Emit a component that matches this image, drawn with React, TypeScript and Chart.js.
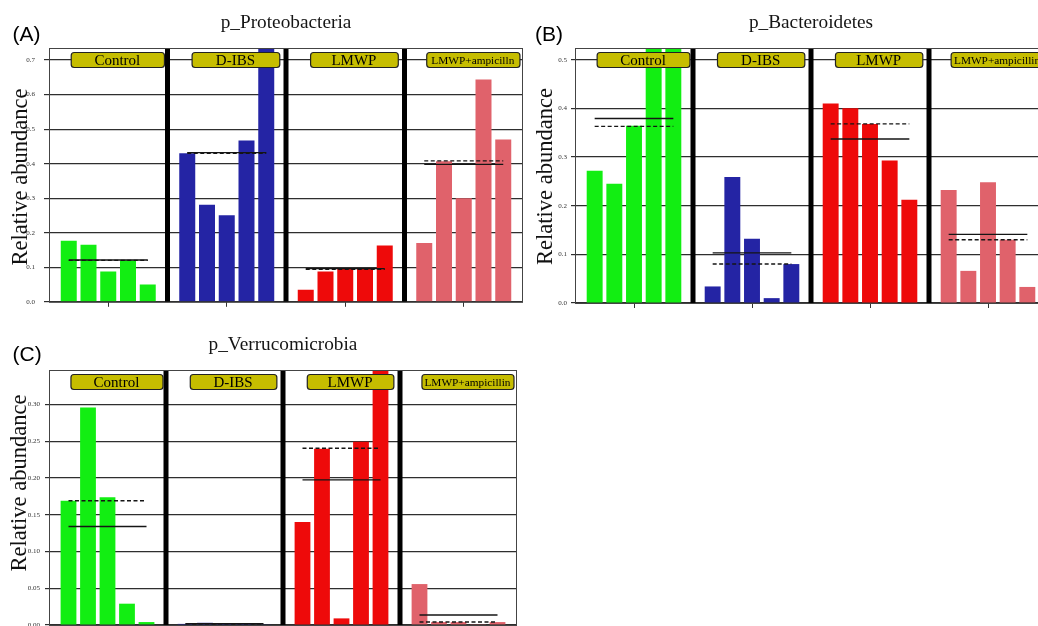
import React, { useEffect, useRef } from 'react';
import { Chart, registerables } from 'chart.js';

Chart.register(...registerables);

// ---------- data ----------
const groupNames = ['Control', 'D-IBS', 'LMWP', 'LMWP+ampicillin'];
const groupNamesA = ['Control', 'D-IBS', 'LMWP', 'LMWP+ampicilln'];
const groupColors = ['#12ee12', '#2424a4', '#ee0a0a', '#e0626b'];

// (A) p_Proteobacteria
const proteoControl = [0.177, 0.165, 0.088, 0.12, 0.05];
const proteoDIBS = [0.43, 0.281, 0.251, 0.467, 0.74];
const proteoLMWP = [0.035, 0.088, 0.095, 0.095, 0.163];
const proteoAmp = [0.17, 0.407, 0.3, 0.644, 0.47];
const proteoMean = [0.121, 0.432, 0.096, 0.398];
const proteoMedian = [0.12, 0.43, 0.094, 0.408];

// (B) p_Bacteroidetes
const bactControl = [0.272, 0.245, 0.364, 0.54, 0.56];
const bactDIBS = [0.034, 0.259, 0.132, 0.01, 0.08];
const bactLMWP = [0.41, 0.4, 0.368, 0.293, 0.212];
const bactAmp = [0.232, 0.066, 0.248, 0.13, 0.033];
const bactMean = [0.379, 0.103, 0.337, 0.141];
const bactMedian = [0.363, 0.08, 0.368, 0.13];

// (C) p_Verrucomicrobia
const verrControl = [0.169, 0.296, 0.174, 0.029, 0.004];
const verrDIBS = [0.0015, 0.003, 0.0015, 0.0015, 0.001];
const verrLMWP = [0.14, 0.24, 0.009, 0.2495, 0.36];
const verrAmp = [0.0557, 0.004, 0.004, 0.0005, 0.004];
const verrMean = [0.134, 0.0019, 0.1975, 0.0137];
const verrMedian = [0.169, 0.0015, 0.2405, 0.004];

const ticksA = [0, 0.1, 0.2, 0.3, 0.4, 0.5, 0.6, 0.7];
const ticksB = [0, 0.1, 0.2, 0.3, 0.4, 0.5];
const ticksC = [0, 0.05, 0.1, 0.15, 0.2, 0.25, 0.3];

const yTitle = 'Relative abundance';

// ---------- panel ----------
type PanelProps = {
  letter: string;
  title: string;
  labels: string[];
  groups: number[][];
  means: number[];
  medians: number[];
  yMax: number;
  yTicks: number[];
  decimals: number;
  box: { left: number; top: number; width: number; height: number };
  canvasW: number;
  canvasH: number;
  area: { left: number; top: number; right: number; bottom: number };
  tickLen: number;
  tickPad: number;
  letterX: number;
  yTitleX: number;
  yTitleY: number;
};

const SLOT = 6;

function Panel(p: PanelProps) {
  const ref = useRef<HTMLCanvasElement | null>(null);

  useEffect(() => {
    if (!ref.current) return;
    const bars = p.groups.flatMap((vals, g) => vals.map((v, i) => ({ x: g * SLOT + i + 1, y: v })));
    const barColors = p.groups.flatMap((vals, g) => vals.map(() => groupColors[g]));
    const lineSets: any[] = [];
    p.means.forEach((m, g) =>
      lineSets.push({
        type: 'line',
        data: [
          { x: g * SLOT + 1, y: m },
          { x: g * SLOT + 5, y: m },
        ],
        borderColor: '#151515',
        borderWidth: 1.4,
        pointRadius: 0,
        order: 0,
      })
    );
    p.medians.forEach((m, g) =>
      lineSets.push({
        type: 'line',
        data: [
          { x: g * SLOT + 1, y: m },
          { x: g * SLOT + 5, y: m },
        ],
        borderColor: '#151515',
        borderWidth: 1.4,
        borderDash: [4, 2.5],
        pointRadius: 0,
        order: 0,
      })
    );
    const groupCenters = p.groups.map((_, g) => g * SLOT + SLOT / 2);
    const separators = p.groups.slice(1).map((_, g) => (g + 1) * SLOT);

    const decor = {
      id: 'decor',
      afterDatasetsDraw(chart: any) {
        const { ctx, chartArea: a } = chart;
        const x = chart.scales.x;
        ctx.save();
        ctx.fillStyle = '#000';
        separators.forEach((v) => {
          const px = x.getPixelForValue(v);
          ctx.fillRect(px - 2.5, a.top, 5, a.bottom - a.top);
        });
        ctx.strokeStyle = '#444';
        ctx.lineWidth = 1;
        ctx.strokeRect(a.left + 0.5, a.top + 0.5, a.right - a.left - 1, a.bottom - a.top);
        p.labels.forEach((txt, g) => {
          const edge = g === 0 || g === p.labels.length - 1 ? [1.1, 5.82] : [1.22, 5.66];
          const l = x.getPixelForValue(g * SLOT + edge[0]);
          const r = x.getPixelForValue(g * SLOT + edge[1]);
          ctx.beginPath();
          ctx.roundRect(l + 0.5, a.top + 4.5, r - l, 15, 3);
          ctx.fillStyle = '#c6bd00';
          ctx.fill();
          ctx.strokeStyle = '#222';
          ctx.lineWidth = 1.2;
          ctx.stroke();
          const size = txt.length > 8 ? 11.3 : 15;
          ctx.fillStyle = '#000';
          ctx.font = `${size}px "Liberation Serif"`;
          ctx.textAlign = 'center';
          ctx.textBaseline = 'alphabetic';
          ctx.fillText(txt, (l + r) / 2, a.top + 12 + 0.33 * size);
        });
        ctx.restore();
      },
      afterDraw(chart: any) {
        const { ctx, chartArea: a } = chart;
        ctx.save();
        ctx.fillStyle = '#151515';
        ctx.font = '19.3px "Liberation Serif"';
        ctx.textAlign = 'center';
        ctx.textBaseline = 'alphabetic';
        ctx.fillText(p.title, (a.left + a.right) / 2, a.top - 20);
        ctx.font = '21px "Liberation Sans"';
        ctx.textAlign = 'left';
        ctx.fillStyle = '#000';
        ctx.fillText(p.letter, p.letterX, 40.5);
        ctx.translate(p.yTitleX, p.yTitleY);
        ctx.rotate(-Math.PI / 2);
        ctx.font = '22.5px "Liberation Serif"';
        ctx.textAlign = 'center';
        ctx.fillStyle = '#111';
        ctx.fillText(yTitle, 0, 0);
        ctx.restore();
      },
    };

    const chart = new Chart(ref.current, {
      type: 'bar',
      data: {
        datasets: [
          {
            type: 'bar',
            data: bars,
            backgroundColor: barColors,
            borderWidth: 0,
            categoryPercentage: 1,
            barPercentage: 0.81,
            clip: 0,
            order: 2,
          } as any,
          ...lineSets,
        ],
      },
      options: {
        animation: false,
        responsive: false,
        layout: {
          padding: {
            left: 0,
            top: p.area.top,
            right: p.canvasW - p.area.right,
            bottom: p.canvasH - p.area.bottom - 11,
          },
        },
        plugins: {
          legend: { display: false },
          tooltip: { enabled: false },
          title: { display: false },
        },
        scales: {
          x: {
            type: 'linear',
            min: 0,
            max: SLOT * p.groups.length,
            offset: false,
            afterBuildTicks: (s: any) => {
              s.ticks = groupCenters.map((v) => ({ value: v }));
            },
            afterFit: (s: any) => {
              s.height = 11;
            },
            ticks: { callback: () => '', autoSkip: false },
            grid: { drawOnChartArea: false, drawTicks: true, tickLength: 5, color: '#333', offset: false },
            border: { display: false },
          },
          y: {
            type: 'linear',
            min: 0,
            max: p.yMax,
            afterBuildTicks: (s: any) => {
              s.ticks = p.yTicks.map((v) => ({ value: v }));
            },
            afterFit: (s: any) => {
              s.width = p.area.left;
            },
            ticks: {
              callback: (v: any) => Number(v).toFixed(p.decimals),
              font: { family: 'Liberation Serif', size: 7 },
              color: '#333',
              padding: p.tickPad,
            },
            grid: { color: '#2e2e2e', lineWidth: 1.2, tickLength: p.tickLen },
            border: { display: false },
          },
        } as any,
      },
      plugins: [decor],
    });
    return () => chart.destroy();
  }, []);

  return (
    <div
      style={{
        position: 'absolute',
        left: p.box.left,
        top: p.box.top,
        width: p.box.width,
        height: p.box.height,
        overflow: 'hidden',
      }}
    >
      <canvas
        ref={ref}
        width={p.canvasW}
        height={p.canvasH}
        style={{ display: 'block', width: p.canvasW, height: p.canvasH }}
      />
    </div>
  );
}

export default function App() {
  return (
    <div
      style={{
        position: 'fixed',
        left: 0,
        top: 0,
        width: 1038,
        height: 626,
        overflow: 'hidden',
        background: '#fff',
      }}
    >
      <Panel
        letter="(A)"
        title="p_Proteobacteria"
        labels={groupNamesA}
        groups={[proteoControl, proteoDIBS, proteoLMWP, proteoAmp]}
        means={proteoMean}
        medians={proteoMedian}
        yMax={0.735}
        yTicks={ticksA}
        decimals={1}
        box={{ left: 0, top: 0, width: 524, height: 320 }}
        canvasW={540}
        canvasH={315}
        area={{ left: 49, top: 48, right: 523, bottom: 304 }}
        tickLen={5}
        tickPad={9}
        letterX={12.5}
        yTitleX={27}
        yTitleY={177}
      />
      <Panel
        letter="(B)"
        title="p_Bacteroidetes"
        labels={groupNames}
        groups={[bactControl, bactDIBS, bactLMWP, bactAmp]}
        means={bactMean}
        medians={bactMedian}
        yMax={0.524}
        yTicks={ticksB}
        decimals={1}
        box={{ left: 524, top: 0, width: 514, height: 320 }}
        canvasW={545}
        canvasH={315}
        area={{ left: 51, top: 48, right: 523, bottom: 303 }}
        tickLen={4}
        tickPad={4}
        letterX={11}
        yTitleX={28}
        yTitleY={176.5}
      />
      <Panel
        letter="(C)"
        title="p_Verrucomicrobia"
        labels={groupNames}
        groups={[verrControl, verrDIBS, verrLMWP, verrAmp]}
        means={verrMean}
        medians={verrMedian}
        yMax={0.347}
        yTicks={ticksC}
        decimals={2}
        box={{ left: 0, top: 320, width: 540, height: 306 }}
        canvasW={540}
        canvasH={330}
        area={{ left: 49, top: 50, right: 517, bottom: 305 }}
        tickLen={4}
        tickPad={5}
        letterX={12.5}
        yTitleX={26}
        yTitleY={163}
      />
    </div>
  );
}
